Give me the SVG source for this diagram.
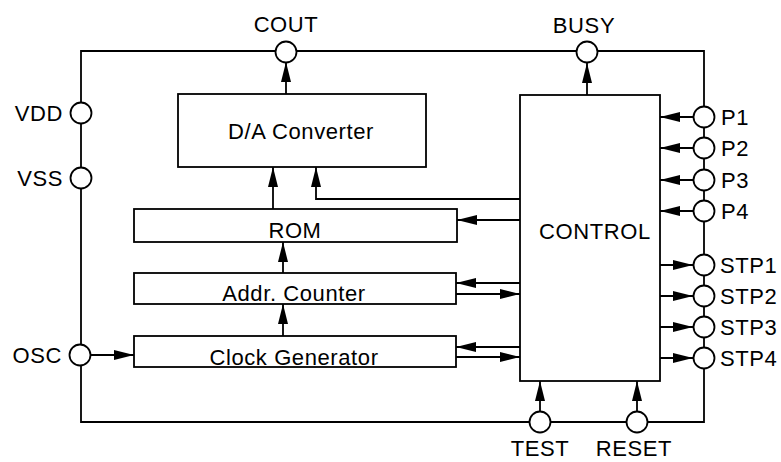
<svg xmlns="http://www.w3.org/2000/svg" width="781" height="462" viewBox="0 0 781 462">
<style>
.box{fill:#fff;stroke:#000;stroke-width:1.8}
.ln{fill:none;stroke:#000;stroke-width:1.8}
.pin{fill:#fff;stroke:#000;stroke-width:1.8}
.t{font-family:"Liberation Sans",Arial,sans-serif;font-size:22px;letter-spacing:0.6px;fill:#000}
.c{text-anchor:middle}
</style>
<defs>
<marker id="ah" viewBox="0 0 20 10" refX="20" refY="5" markerWidth="20" markerHeight="10" markerUnits="userSpaceOnUse" orient="auto">
<path d="M0,0 L20,5 L0,10 z" fill="#000"/>
</marker>
</defs>
<g id="frame">
<path class="ln" d="M81,51 L704,51 L704,422 L81,422 Z"/>
</g>
<g id="connectors">
<line class="ln" x1="286" y1="94" x2="286" y2="62" marker-end="url(#ah)"/>
<line class="ln" x1="587" y1="95" x2="587" y2="63" marker-end="url(#ah)"/>
<line class="ln" x1="273" y1="209" x2="273" y2="167" marker-end="url(#ah)"/>
<path class="ln" d="M520,199 L316,199 L316,167" marker-end="url(#ah)"/>
<line class="ln" x1="520" y1="220" x2="457" y2="220" marker-end="url(#ah)"/>
<line class="ln" x1="283" y1="273" x2="283" y2="242" marker-end="url(#ah)"/>
<line class="ln" x1="520" y1="283" x2="456" y2="283" marker-end="url(#ah)"/>
<line class="ln" x1="456" y1="294" x2="520" y2="294" marker-end="url(#ah)"/>
<line class="ln" x1="283" y1="336" x2="283" y2="304" marker-end="url(#ah)"/>
<line class="ln" x1="520" y1="347" x2="456" y2="347" marker-end="url(#ah)"/>
<line class="ln" x1="456" y1="357" x2="520" y2="357" marker-end="url(#ah)"/>
<line class="ln" x1="90" y1="355" x2="134" y2="355" marker-end="url(#ah)"/>
<line class="ln" x1="694" y1="117" x2="660" y2="117" marker-end="url(#ah)"/>
<line class="ln" x1="694" y1="148" x2="660" y2="148" marker-end="url(#ah)"/>
<line class="ln" x1="694" y1="180" x2="660" y2="180" marker-end="url(#ah)"/>
<line class="ln" x1="694" y1="211" x2="660" y2="211" marker-end="url(#ah)"/>
<line class="ln" x1="660" y1="265" x2="693" y2="265" marker-end="url(#ah)"/>
<line class="ln" x1="660" y1="296" x2="693" y2="296" marker-end="url(#ah)"/>
<line class="ln" x1="660" y1="327" x2="693" y2="327" marker-end="url(#ah)"/>
<line class="ln" x1="660" y1="358" x2="693" y2="358" marker-end="url(#ah)"/>
<line class="ln" x1="540" y1="412" x2="540" y2="381" marker-end="url(#ah)"/>
<line class="ln" x1="637" y1="412" x2="637" y2="381" marker-end="url(#ah)"/>
</g>
<g id="da"><rect class="box" x="178" y="94" width="248" height="73"/><text class="t c" x="301" y="139">D/A Converter</text></g>
<g id="rom"><rect class="box" x="134" y="209" width="323" height="33"/><text class="t c" x="295" y="238">ROM</text></g>
<g id="addr"><rect class="box" x="134" y="273" width="322" height="31"/><text class="t c" x="294" y="301">Addr. Counter</text></g>
<g id="clock"><rect class="box" x="134" y="336" width="322" height="31"/><text class="t c" x="294" y="365">Clock Generator</text></g>
<g id="control"><rect class="box" x="520" y="95" width="140" height="286"/><text class="t c" x="595" y="239">CONTROL</text></g>
<g id="cout"><circle class="pin" cx="286" cy="52" r="10.5"/><text class="t c" x="286" y="32">COUT</text></g>
<g id="busy"><circle class="pin" cx="587" cy="52" r="10.5"/><text class="t c" x="584" y="33">BUSY</text></g>
<g id="vdd"><circle class="pin" cx="81" cy="113" r="10.5"/><text class="t" x="63" y="121" text-anchor="end">VDD</text></g>
<g id="vss"><circle class="pin" cx="81" cy="178" r="10.5"/><text class="t" x="63" y="186" text-anchor="end">VSS</text></g>
<g id="osc"><circle class="pin" cx="80" cy="355" r="10.5"/><text class="t" x="62" y="363" text-anchor="end">OSC</text></g>
<g id="p1"><circle class="pin" cx="704" cy="117" r="10.5"/><text class="t" x="721" y="125">P1</text></g>
<g id="p2"><circle class="pin" cx="704" cy="148" r="10.5"/><text class="t" x="721" y="156">P2</text></g>
<g id="p3"><circle class="pin" cx="704" cy="180" r="10.5"/><text class="t" x="721" y="188">P3</text></g>
<g id="p4"><circle class="pin" cx="704" cy="211" r="10.5"/><text class="t" x="721" y="219">P4</text></g>
<g id="stp1"><circle class="pin" cx="704" cy="265" r="10.5"/><text class="t" x="720" y="273">STP1</text></g>
<g id="stp2"><circle class="pin" cx="704" cy="296" r="10.5"/><text class="t" x="720" y="304">STP2</text></g>
<g id="stp3"><circle class="pin" cx="704" cy="327" r="10.5"/><text class="t" x="720" y="335">STP3</text></g>
<g id="stp4"><circle class="pin" cx="704" cy="358" r="10.5"/><text class="t" x="720" y="366">STP4</text></g>
<g id="test"><circle class="pin" cx="540" cy="422" r="10.5"/><text class="t c" x="540" y="456">TEST</text></g>
<g id="reset"><circle class="pin" cx="637" cy="422" r="10.5"/><text class="t c" x="634" y="456">RESET</text></g>
</svg>
